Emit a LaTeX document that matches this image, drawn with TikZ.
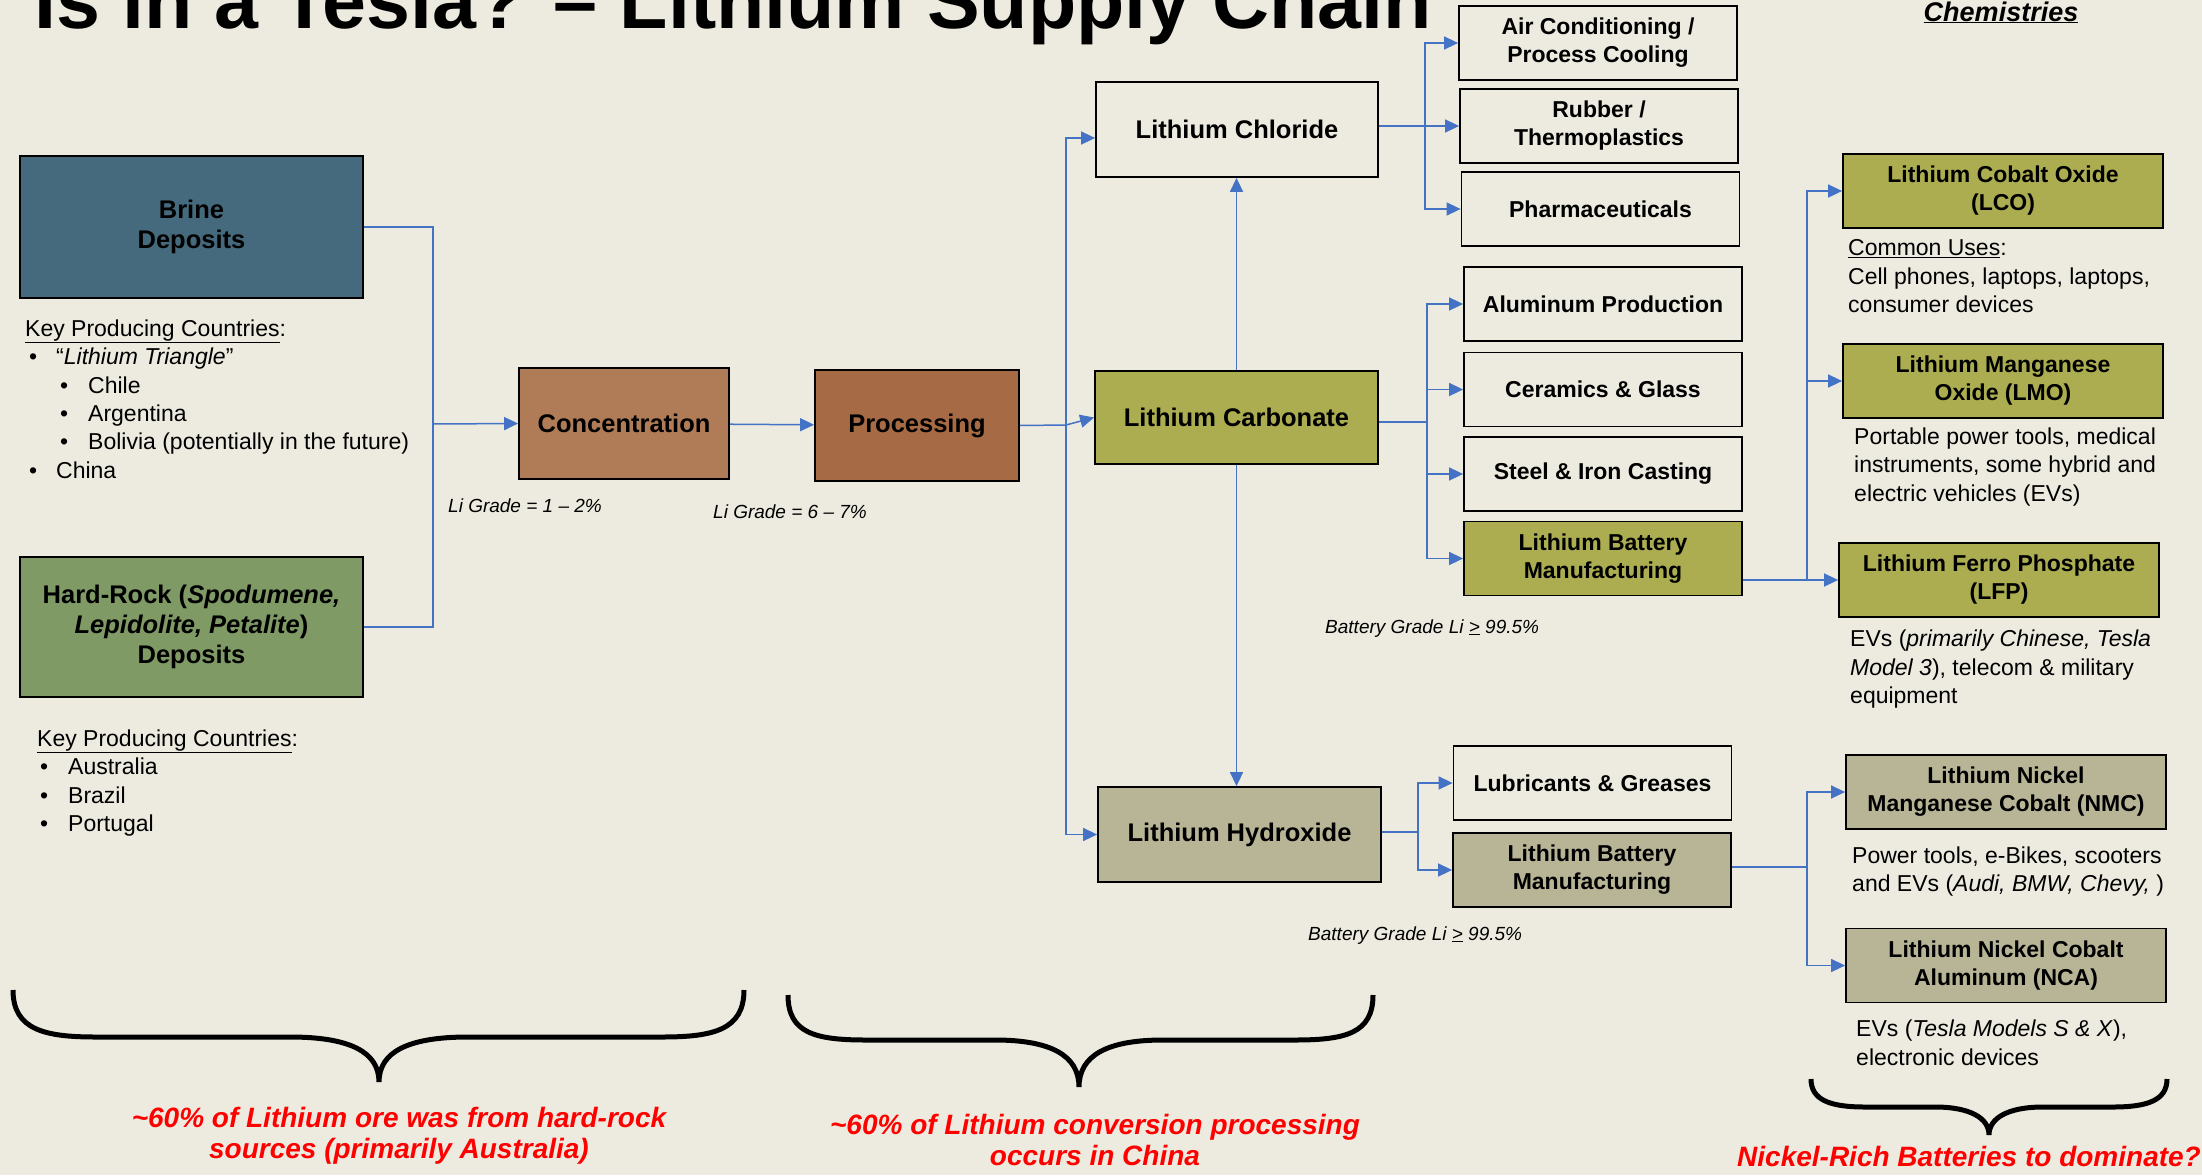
\documentclass[tikz,border=0pt]{standalone}
\usepackage{fontspec}
\setmainfont{Liberation Sans}
\usepackage{xcolor}
\usetikzlibrary{arrows.meta}

\definecolor{slidebg}{HTML}{EDEBE0}
\definecolor{brineblue}{HTML}{456A7D}
\definecolor{rockgreen}{HTML}{7F9A65}
\definecolor{concbrown}{HTML}{B07C57}
\definecolor{procbrown}{HTML}{A66B44}
\definecolor{carbolive}{HTML}{ABAD50}
\definecolor{hydkhaki}{HTML}{B8B596}
\definecolor{arrowblue}{HTML}{4472C4}

\begin{document}
\begin{tikzpicture}[
x=1pt, y=-1pt,
box/.style={draw, line width=1.8pt, align=center, inner sep=0pt, font=\bfseries\fontsize{25.5}{30}\selectfont},
usebox/.style={box, minimum width=278pt, minimum height=74pt, font=\bfseries\fontsize{23}{28}\selectfont},
chem/.style={usebox, minimum width=320pt},
note/.style={anchor=north west, align=left, inner sep=0pt, font=\fontsize{23}{28.4}\selectfont},
grade/.style={anchor=base west, inner sep=0pt, font=\itshape\fontsize{19}{22}\selectfont},
feed/.style={draw=arrowblue, line width=1.5pt},
arr/.style={feed, -{Triangle[length=14pt,width=13pt]}},
bracepath/.style={line width=5pt},
redcall/.style={anchor=north, align=center, inner sep=0pt, text=red, font=\bfseries\itshape\fontsize{28}{31}\selectfont}
]
\useasboundingbox (0,0) rectangle (2202,1175);
\fill[slidebg] (0,0) rectangle (2202,1175);

% headings
\node[anchor=base east, inner sep=0pt, font=\bfseries\fontsize{79}{90}\selectfont] (title) at (1432,28) {Is in a Tesla? – Lithium Supply Chain};
\node[anchor=base, inner sep=0pt, font=\bfseries\itshape\fontsize{27}{32}\selectfont] (chemhead) at (2001,21) {\underline{Chemistries}};

% sources
\node[box, fill=brineblue, minimum width=343pt, minimum height=142pt] (brine) at (191.5,227) {Brine\\Deposits};
\node[box, fill=rockgreen, minimum width=343pt, minimum height=140pt] (hardrock) at (191.5,627) {Hard-Rock (\textit{Spodumene,}\\\textit{Lepidolite, Petalite})\\Deposits};
\node[note] (brinelist) at (25,319.5) {\underline{Key Producing Countries}:\\
\hspace*{4pt}\makebox[27pt][l]{•}“\textit{Lithium Triangle}”\\
\hspace*{35pt}\makebox[28pt][l]{•}Chile\\
\hspace*{35pt}\makebox[28pt][l]{•}Argentina\\
\hspace*{35pt}\makebox[28pt][l]{•}Bolivia (potentially in the future)\\
\hspace*{4pt}\makebox[27pt][l]{•}China};
\node[note] (rocklist) at (37,729.5) {\underline{Key Producing Countries}:\\
\hspace*{3pt}\makebox[28pt][l]{•}Australia\\
\hspace*{3pt}\makebox[28pt][l]{•}Brazil\\
\hspace*{3pt}\makebox[28pt][l]{•}Portugal};

% concentration and processing
\node[box, fill=concbrown, minimum width=210pt, minimum height=111pt] (conc) at (624,423.5) {Concentration};
\node[box, fill=procbrown, minimum width=204pt, minimum height=111pt] (proc) at (917,425.5) {Processing};
\node[grade] (gradeconc) at (448,512) {Li Grade = 1 – 2\%};
\node[grade] (gradeproc) at (713,518) {Li Grade = 6 – 7\%};

% lithium compounds
\node[box, minimum width=282pt, minimum height=95pt] (licl) at (1237,129.5) {Lithium Chloride};
\node[box, fill=carbolive, minimum width=283pt, minimum height=93pt] (lico) at (1236.5,417.5) {Lithium Carbonate};
\node[box, fill=hydkhaki, minimum width=283pt, minimum height=95pt] (lioh) at (1239.5,834.5) {Lithium Hydroxide};

% end uses
\node[usebox] (aircon) at (1598,43) {Air Conditioning /\\Process Cooling};
\node[usebox] (rubber) at (1599,126) {Rubber /\\Thermoplastics};
\node[usebox] (pharma) at (1600.5,209) {Pharmaceuticals};
\node[usebox] (alum) at (1603,304) {Aluminum Production};
\node[usebox] (ceramic) at (1603,389.5) {Ceramics \& Glass};
\node[usebox] (steel) at (1603,474) {Steel \& Iron Casting};
\node[usebox, fill=carbolive] (battc) at (1603,558.5) {Lithium Battery\\Manufacturing};
\node[usebox] (lubric) at (1592.5,783) {Lubricants \& Greases};
\node[usebox, fill=hydkhaki] (batth) at (1592,870) {Lithium Battery\\Manufacturing};
\node[grade] (gradecarb) at (1325,633) {Battery Grade Li \underline{>} 99.5\%};
\node[grade] (gradehyd) at (1308,940) {Battery Grade Li \underline{>} 99.5\%};

% battery chemistries
\node[chem, fill=carbolive] (lco) at (2003,191) {Lithium Cobalt Oxide\\(LCO)};
\node[chem, fill=carbolive] (lmo) at (2003,381) {Lithium Manganese\\Oxide (LMO)};
\node[chem, fill=carbolive] (lfp) at (1999,580) {Lithium Ferro Phosphate\\(LFP)};
\node[chem, fill=hydkhaki] (nmc) at (2006,792) {Lithium Nickel\\Manganese Cobalt (NMC)};
\node[chem, fill=hydkhaki] (nca) at (2006,965.5) {Lithium Nickel Cobalt\\Aluminum (NCA)};
\node[note] (lcouse) at (1848,239.5) {\underline{Common Uses}:\\Cell phones, laptops, laptops,\\consumer devices};
\node[note] (lmouse) at (1854,427.5) {Portable power tools, medical\\instruments, some hybrid and\\electric vehicles (EVs)};
\node[note] (lfpuse) at (1850,630) {EVs (\textit{primarily Chinese, Tesla}\\\textit{Model 3}), telecom \& military\\equipment};
\node[note] (nmcuse) at (1852,846.5) {Power tools, e-Bikes, scooters\\and EVs (\textit{Audi, BMW, Chevy, })};
\node[note] (ncause) at (1856,1020) {EVs (\textit{Tesla Models S \& X}),\\electronic devices};

% bus points
\coordinate (orebus) at (433,424);
\coordinate (procbus) at (1066,425);
\coordinate (clbus) at (1425,126);
\coordinate (cbbus) at (1427,422);
\coordinate (ohbus) at (1418,832);
\coordinate (lcobus) at (1807,580);
\coordinate (nmcbus) at (1807,867);

% connectors
\draw[feed] (brine.east) -| (orebus) |- (hardrock.east);
\draw[arr] (orebus) -- (conc.west);
\draw[arr] (conc) -- (proc);
\draw[feed] (proc.east) -- (procbus);
\draw[arr] (procbus) |- ([yshift=-8.5pt]licl.west);
\draw[arr] (procbus) -- (lico.west);
\draw[arr] (procbus) |- (lioh.west);
\draw[arr] (lico.north) -- (lico.north |- licl.south);
\draw[arr] (lico.south) -- (lico.south |- lioh.north);

\draw[feed] (licl.east |- clbus) -- (clbus);
\draw[arr] (clbus) |- (aircon.west);
\draw[arr] (clbus) -- (rubber.west);
\draw[arr] (clbus) |- (pharma.west);

\draw[feed] (lico.east |- cbbus) -- (cbbus);
\draw[arr] (cbbus) |- (alum.west);
\draw[arr] (cbbus) |- (ceramic.west);
\draw[arr] (cbbus) |- (steel.west);
\draw[arr] (cbbus) |- (battc.west);

\draw[feed] (lioh.east |- ohbus) -- (ohbus);
\draw[arr] (ohbus) |- (lubric.west);
\draw[arr] (ohbus) |- (batth.west);

\draw[feed] (battc.east |- lcobus) -- (lcobus);
\draw[arr] (lcobus) |- (lco.west);
\draw[arr] (lcobus) |- (lmo.west);
\draw[arr] (lcobus) -- (lfp.west);

\draw[feed] (batth.east |- nmcbus) -- (nmcbus);
\draw[arr] (nmcbus) |- (nmc.west);
\draw[arr] (nmcbus) |- (nca.west);

% braces and remarks
\draw[bracepath] (13,990) .. controls (13,1030) and (45,1037) .. (96,1037) -- (290,1037) .. controls (350,1037) and (379,1052) .. (379,1082) .. controls (379,1052) and (408,1037) .. (468,1037) -- (662,1037) .. controls (713,1037) and (744,1030) .. (744,990);
\draw[bracepath] (788,995) .. controls (788,1033) and (815,1040) .. (866,1040) -- (995,1040) .. controls (1050,1040) and (1079,1055) .. (1079,1087) .. controls (1079,1055) and (1108,1040) .. (1163,1040) -- (1295,1040) .. controls (1346,1040) and (1373,1033) .. (1373,995);
\draw[bracepath] (1811,1079) .. controls (1811,1100) and (1830,1107) .. (1865,1107) -- (1935,1107) .. controls (1970,1107) and (1989,1118) .. (1989,1135) .. controls (1989,1118) and (2008,1107) .. (2043,1107) -- (2113,1107) .. controls (2148,1107) and (2167,1100) .. (2167,1079);
\node[redcall] (noteore) at (399,1107) {\textasciitilde60\% of Lithium ore was from hard-rock\\sources (primarily Australia)};
\node[redcall] (noteconv) at (1095,1114) {\textasciitilde60\% of Lithium conversion processing\\occurs in China};
\node[anchor=base, inner sep=0pt, text=red, font=\bfseries\itshape\fontsize{28}{31}\selectfont] (notenickel) at (1969,1166.5) {Nickel-Rich Batteries to dominate?};
\end{tikzpicture}
\end{document}
